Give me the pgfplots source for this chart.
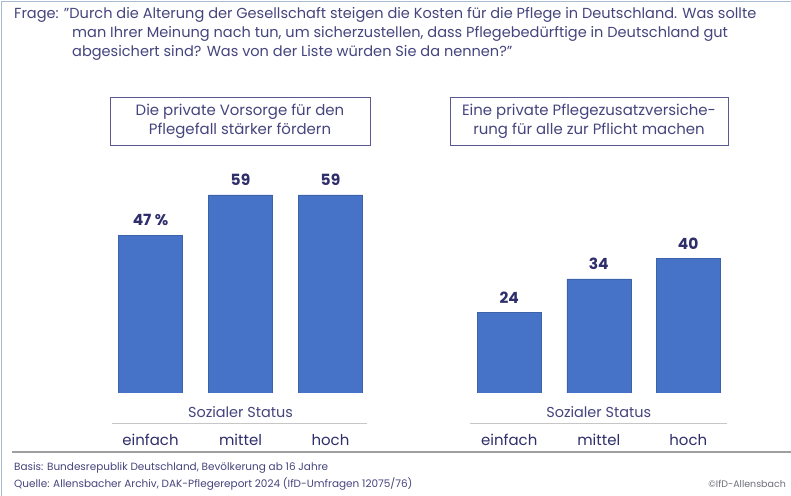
\documentclass[border=0pt]{standalone}
\usepackage{pgfplots}
\pgfplotsset{compat=1.18}
\usepackage{fontspec}
\setmainfont{Poppins}
\definecolor{barblue}{HTML}{4673C8}
\definecolor{navy}{HTML}{2E2E6B}
\definecolor{txt}{HTML}{45457E}
\definecolor{framec}{HTML}{A8BCD0}
\definecolor{boxc}{HTML}{5A5A90}
\pgfplotsset{
  mybar/.style={
    scale only axis, height=235.2bp,
    ymin=0, ymax=70, xmin=-0.5, xmax=2.5,
    axis line style={draw=none},
    major tick length=0pt,
    ytick=\empty,
    xtick={0,1,2},
    xticklabels={einfach,mittel,hoch},
    xticklabel style={font=\fontsize{15}{17}\selectfont, text=navy, anchor=center, yshift=-47bp},
    xlabel={Sozialer Status},
    xlabel style={at={(axis description cs:0.5,0)}, anchor=center, yshift=-19bp, font=\fontsize{14.5}{16}\selectfont, text=txt},
    ybar, bar width=64bp,
    nodes near coords, point meta=explicit symbolic,
    every node near coord/.append style={font=\bfseries\fontsize{15.5}{18}\selectfont, text=navy, anchor=center, yshift=15bp},
  }
}
\begin{document}
\begin{tikzpicture}
\path[use as bounding box] (0bp,0bp) rectangle (791bp,496bp);
\fill[white] (0bp,0bp) rectangle (791bp,496bp);
\draw[framec, line width=1.5bp] (1.5bp,0bp) -- (1.5bp,494.5bp) -- (791bp,494.5bp);
% title
\node[anchor=base west, inner sep=0, text=txt, font=\fontsize{14.6}{17}\selectfont] at (14bp,477bp) {Frage: "Durch die Alterung der Gesellschaft steigen die Kosten für die Pflege in Deutschland. Was sollte};
\node[anchor=base west, inner sep=0, text=txt, font=\fontsize{14.6}{17}\selectfont] at (72bp,458bp) {man Ihrer Meinung nach tun, um sicherzustellen, dass Pflegebedürftige in Deutschland gut};
\node[anchor=base west, inner sep=0, text=txt, font=\fontsize{14.6}{17}\selectfont] at (72bp,439bp) {abgesichert sind? Was von der Liste würden Sie da nennen?"};
% boxes
\draw[boxc, line width=0.9bp] (110bp,399bp) rectangle (370bp,351bp);
\node[align=center, text=txt, font=\fontsize{15}{19}\selectfont] at (240bp,375bp) {Die private Vorsorge für den\\Pflegefall stärker fördern};
\draw[boxc, line width=0.9bp] (450bp,399bp) rectangle (728bp,351bp);
\node[align=center, text=txt, font=\fontsize{15}{19}\selectfont] at (589bp,375bp) {Eine private Pflegezusatzversiche-\\rung für alle zur Pflicht machen};
% axes
\begin{axis}[mybar, width=270bp, at={(105.5bp,103bp)}, anchor=south west]
\addplot[fill=barblue, draw=barblue!85!black, line width=0.4bp] coordinates {(0,47) [47 \%] (1,59) [59] (2,59) [59]};
\end{axis}
\begin{axis}[mybar, width=268.5bp, at={(464.5bp,103bp)}, anchor=south west]
\addplot[fill=barblue, draw=barblue!85!black, line width=0.4bp] coordinates {(0,24) [24] (1,34) [34] (2,40) [40]};
\end{axis}
% separators
\draw[gray!45, line width=0.8bp] (112bp,73bp) -- (367bp,73bp);
\draw[gray!45, line width=0.8bp] (470bp,73bp) -- (727bp,73bp);
\draw[gray!75, line width=1.2bp] (12bp,44bp) -- (791bp,44bp);
% footer
\node[anchor=base west, inner sep=0, text=txt, font=\fontsize{10.5}{12}\selectfont] at (14bp,26bp) {Basis: Bundesrepublik Deutschland, Bevölkerung ab 16 Jahre};
\node[anchor=base west, inner sep=0, text=txt, font=\fontsize{10.5}{12}\selectfont] at (14bp,9bp) {Quelle: Allensbacher Archiv, DAK-Pflegereport 2024 (IfD-Umfragen 12075/76)};
\node[anchor=base east, inner sep=0, text=gray!80!navy, font=\fontsize{9.5}{10}\selectfont] at (786bp,9bp) {©IfD-Allensbach};
\end{tikzpicture}
\end{document}
